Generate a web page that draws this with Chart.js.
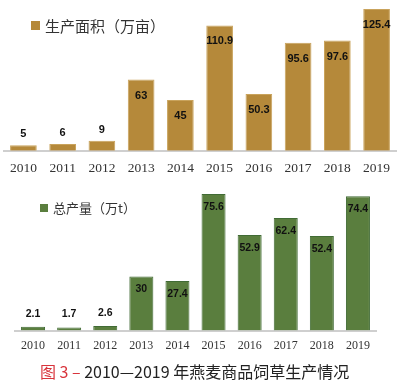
<!DOCTYPE html>
<html>
<head>
<meta charset="utf-8">
<script src="https://cdn.jsdelivr.net/npm/chart.js@4/dist/chart.umd.min.js"></script>
<style>
  html, body { margin: 0; padding: 0; background: #fff; }
  body { width: 400px; height: 390px; position: relative; overflow: hidden; }
  .c { position: absolute; left: 0; }
  #caption { position: absolute; left: 40px; top: 360px; font-family: "Noto Sans CJK SC", sans-serif; font-size: 16px; color: #222; white-space: nowrap; line-height: 22px; }
  #caption .red { color: #d8343c; }
</style>
</head>
<body>
<div class="c" style="top:0;width:400px;height:188px"><canvas id="top"></canvas></div>
<div class="c" style="top:180px;width:400px;height:182px"><canvas id="bot"></canvas></div>
<div id="caption"><span class="red">图 3 – </span>2010—2019 年燕麦商品饲草生产情况</div>
<script>
const years = ["2010","2011","2012","2013","2014","2015","2016","2017","2018","2019"];
const areaLabel = "生产面积（万亩）";
const areaValues = [5, 6, 9, 63, 45, 110.9, 50.3, 95.6, 97.6, 125.4];
const outputLabel = "总产量（万t）";
const outputValues = [2.1, 1.7, 2.6, 30, 27.4, 75.6, 52.9, 62.4, 52.4, 74.4];

const valueLabels = {
  id: 'valueLabels',
  afterDatasetsDraw(chart, args, opts) {
    const ctx = chart.ctx;
    const meta = chart.getDatasetMeta(0);
    const data = chart.data.datasets[0].data;
    ctx.save();
    ctx.font = opts.font;
    ctx.fillStyle = '#111';
    ctx.textAlign = 'center';
    ctx.textBaseline = 'middle';
    meta.data.forEach((el, i) => {
      const h = el.base - el.y;
      const y = h < 25 ? el.y - opts.above : el.y + opts.inside;
      ctx.fillText(String(data[i]), el.x, y);
    });
    ctx.restore();
  }
};

const customLegend = {
  id: 'customLegend',
  afterDraw(chart, args, opts) {
    const ctx = chart.ctx;
    const ds = chart.data.datasets[0];
    ctx.save();
    ctx.fillStyle = ds.backgroundColor;
    ctx.fillRect(opts.x, opts.y, opts.box, opts.box);
    ctx.font = opts.font;
    ctx.fillStyle = '#333';
    ctx.textAlign = 'left';
    ctx.textBaseline = 'middle';
    ctx.fillText(ds.label, opts.tx, opts.ty);
    ctx.restore();
  }
};

function makeChart(id, label, values, color, border, opt) {
  return new Chart(document.getElementById(id), {
    type: 'bar',
    data: {
      labels: years,
      datasets: [{
        label: label,
        data: values,
        backgroundColor: color,
        borderColor: border,
        borderWidth: 1,
        categoryPercentage: 1,
        barPercentage: opt.barPct
      }]
    },
    options: {
      responsive: true,
      maintainAspectRatio: false,
      animation: false,
      layout: { padding: opt.padding },
      plugins: {
        legend: { display: false },
        tooltip: { enabled: false },
        valueLabels: opt.labels,
        customLegend: opt.legend
      },
      scales: {
        x: {
          grid: { display: false, drawTicks: false },
          border: { display: true, color: '#cfcfcf', width: 2 },
          ticks: { color: '#333', padding: opt.tickPad, font: { family: '"Liberation Serif", serif', size: opt.tickSize } }
        },
        y: { display: false, min: 0, max: opt.max }
      }
    },
    plugins: [valueLabels, customLegend]
  });
}

makeChart('top', areaLabel, areaValues, '#b5893a', '#c9a35c', {
  barPct: 0.68, padding: { left: 2, right: 0, top: 0, bottom: 1 }, tickPad: 10, tickSize: 13.5, max: 133.4,
  labels: { font: 'bold 11px "Liberation Sans", Arial, sans-serif', above: 11, inside: 16 },
  legend: { x: 31, y: 21, box: 9, tx: 45, ty: 26, font: '15px "Noto Sans CJK SC", sans-serif' }
});
makeChart('bot', outputLabel, outputValues, '#5a7e3e', '#416b35', {
  barPct: 0.665, padding: { left: 15, right: 24, top: 0, bottom: 1 }, tickPad: 8, tickSize: 12, max: 83.4,
  labels: { font: 'bold 10.5px "Liberation Sans", Arial, sans-serif', above: 13, inside: 13 },
  legend: { x: 40, y: 24, box: 8, tx: 53, ty: 28, font: '13px "Noto Sans CJK SC", sans-serif' }
});
</script>
</body>
</html>
